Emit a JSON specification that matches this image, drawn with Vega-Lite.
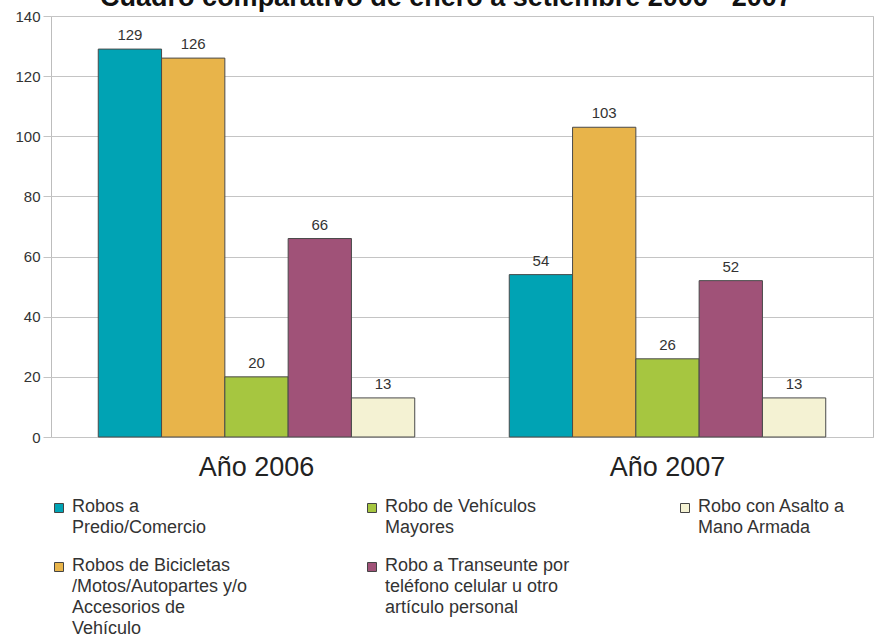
{
  "$schema": "https://vega.github.io/schema/vega-lite/v6.json",
  "autosize": "none",
  "padding": {"left": 51, "top": 16, "right": 2, "bottom": 201},
  "width": 822,
  "height": 421,
  "background": "white",
  "config": {
    "font": "Liberation Sans",
    "view": {"stroke": "#bdbdbd", "strokeWidth": 1}
  },
  "title": {
    "text": "Cuadro comparativo de enero a setiembre 2006 - 2007",
    "fontSize": 27,
    "fontWeight": "bold",
    "color": "#111111",
    "anchor": "middle",
    "frame": "group",
    "baseline": "alphabetic",
    "offset": -24,
    "dx": -16
  },
  "data": {
    "values": [
      {"anio": "Año 2006", "tipo": "Robos a|Predio/Comercio", "valor": 129},
      {"anio": "Año 2006", "tipo": "Robos de Bicicletas|/Motos/Autopartes y/o|Accesorios de|Vehículo", "valor": 126},
      {"anio": "Año 2006", "tipo": "Robo de Vehículos|Mayores", "valor": 20},
      {"anio": "Año 2006", "tipo": "Robo a Transeunte por|teléfono celular u otro|artículo personal", "valor": 66},
      {"anio": "Año 2006", "tipo": "Robo con Asalto a|Mano Armada", "valor": 13},
      {"anio": "Año 2007", "tipo": "Robos a|Predio/Comercio", "valor": 54},
      {"anio": "Año 2007", "tipo": "Robos de Bicicletas|/Motos/Autopartes y/o|Accesorios de|Vehículo", "valor": 103},
      {"anio": "Año 2007", "tipo": "Robo de Vehículos|Mayores", "valor": 26},
      {"anio": "Año 2007", "tipo": "Robo a Transeunte por|teléfono celular u otro|artículo personal", "valor": 52},
      {"anio": "Año 2007", "tipo": "Robo con Asalto a|Mano Armada", "valor": 13}
    ]
  },
  "encoding": {
    "x": {
      "field": "anio",
      "type": "nominal",
      "scale": {"paddingInner": 0.23, "paddingOuter": 0.115},
      "axis": {
        "title": null,
        "labelAngle": 0,
        "labelFontSize": 27,
        "labelColor": "#222222",
        "labelPadding": 17,
        "ticks": false,
        "domain": false
      }
    },
    "xOffset": {
      "field": "tipo",
      "type": "nominal",
      "sort": [
        "Robos a|Predio/Comercio",
        "Robos de Bicicletas|/Motos/Autopartes y/o|Accesorios de|Vehículo",
        "Robo de Vehículos|Mayores",
        "Robo a Transeunte por|teléfono celular u otro|artículo personal",
        "Robo con Asalto a|Mano Armada"
      ],
      "scale": {"paddingInner": 0, "paddingOuter": 0}
    },
    "y": {
      "field": "valor",
      "type": "quantitative",
      "scale": {"domain": [0, 140]},
      "axis": {
        "title": null,
        "values": [0, 20, 40, 60, 80, 100, 120, 140],
        "grid": true,
        "gridColor": "#c4c4c4",
        "gridWidth": 1,
        "domain": false,
        "ticks": true,
        "tickSize": 8,
        "tickColor": "#c4c4c4",
        "labelFontSize": 15,
        "labelColor": "#333333",
        "labelPadding": 3
      }
    }
  },
  "layer": [
    {
      "mark": {"type": "bar", "stroke": "#4a4a4a", "strokeWidth": 1},
      "encoding": {
        "color": {
          "field": "tipo",
          "type": "nominal",
          "scale": {
            "domain": [
              "Robos a|Predio/Comercio",
              "Robos de Bicicletas|/Motos/Autopartes y/o|Accesorios de|Vehículo",
              "Robo de Vehículos|Mayores",
              "Robo a Transeunte por|teléfono celular u otro|artículo personal",
              "Robo con Asalto a|Mano Armada"
            ],
            "range": ["#00a3b4", "#e8b44a", "#a6c640", "#a05278", "#f4f2d3"]
          },
          "legend": {
            "title": null,
            "orient": "none",
            "legendX": -1,
            "legendY": 462,
            "direction": "horizontal",
            "columns": 3,
            "gridAlign": "all",
            "columnPadding": 106,
            "rowPadding": -8,
            "padding": 0,
            "symbolType": "square",
            "symbolSize": 81,
            "symbolStrokeColor": "#444444",
            "symbolStrokeWidth": 1,
            "symbolOpacity": 1,
            "labelFontSize": 18,
            "labelColor": "#333333",
            "labelLimit": 400,
            "labelOffset": 4,
            "labelBaseline": "top",
            "labelExpr": "split(datum.label, '|')",
            "values": [
              "Robos a|Predio/Comercio",
              "Robo de Vehículos|Mayores",
              "Robo con Asalto a|Mano Armada",
              "Robos de Bicicletas|/Motos/Autopartes y/o|Accesorios de|Vehículo",
              "Robo a Transeunte por|teléfono celular u otro|artículo personal"
            ],
            "encode": {
              "labels": {"update": {"lineHeight": {"value": 21}, "dy": {"value": -10}}}
            }
          }
        }
      }
    },
    {
      "mark": {"type": "text", "baseline": "alphabetic", "dy": -9, "fontSize": 15, "color": "#333333"},
      "encoding": {
        "text": {"field": "valor", "type": "quantitative"}
      }
    }
  ]
}
